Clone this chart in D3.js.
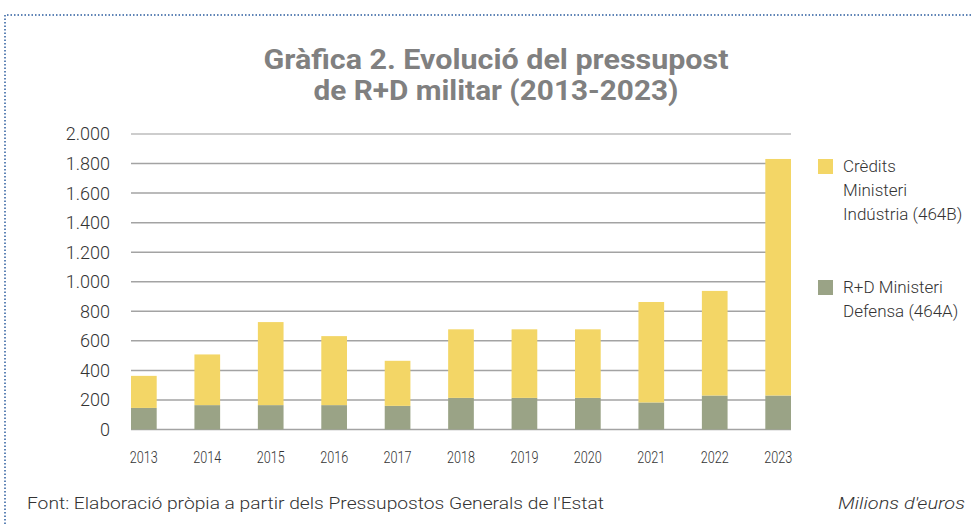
<!DOCTYPE html>
<html>
<head>
<meta charset="utf-8">
<script src="https://cdn.jsdelivr.net/npm/d3@7"></script>
<style>
  body { margin: 0; background: #fff; }
  svg text { font-family: Roboto, "Open Sans", sans-serif; }
</style>
</head>
<body>
<div id="chart"></div>
<script>
const years = ["2013", "2014", "2015", "2016", "2017", "2018", "2019", "2020", "2021", "2022", "2023"];
const defensa = [146, 165, 165, 165, 160, 214, 214, 214, 183, 230, 230];
const industria = [217, 343, 562, 467, 305, 464, 464, 464, 680, 708, 1601];
const yTicks = [0, 200, 400, 600, 800, 1000, 1200, 1400, 1600, 1800, 2000];
const titleLines = ["Gràfica 2. Evolució del pressupost", "de R+D militar (2013-2023)"];

const width = 972, height = 524;
const colors = { industria: "#f3d666", defensa: "#9aa386" };

const data = years.map((y, i) => ({ year: y, defensa: defensa[i], industria: industria[i] }));

const svg = d3.select("#chart").append("svg")
    .attr("width", width)
    .attr("height", height);

// dotted frame (top and left)
svg.append("path")
    .attr("d", `M5,${height} L5,15 L${width},15`)
    .attr("fill", "none")
    .attr("stroke", "#2b5c9e")
    .attr("stroke-width", 1.5)
    .attr("stroke-dasharray", "1.5,2");

// title
svg.append("g").selectAll("text")
    .data(titleLines)
    .enter().append("text")
    .attr("x", 496)
    .attr("y", (d, i) => 69 + i * 31)
    .attr("text-anchor", "middle")
    .attr("fill", "#808080")
    .attr("font-size", 27)
    .attr("font-weight", 700)
    .attr("textLength", (d, i) => i === 0 ? 465 : 365)
    .attr("lengthAdjust", "spacingAndGlyphs")
    .text(d => d);

const x = d3.scaleBand()
    .domain(years)
    .range([131, 791])
    .paddingInner(0.595)
    .paddingOuter(0);

const y = d3.scaleLinear()
    .domain([0, 2000])
    .range([429.5, 134]);

// gridlines
svg.append("g").selectAll("line")
    .data(yTicks)
    .enter().append("line")
    .attr("x1", 131)
    .attr("x2", 791)
    .attr("y1", d => y(d))
    .attr("y2", d => y(d))
    .attr("stroke", d => d === 2000 ? "#bdbdbd" : "#a3a3a3")
    .attr("stroke-width", 1.5);

// y tick labels
svg.append("g").selectAll("text")
    .data(yTicks)
    .enter().append("text")
    .attr("x", 110)
    .attr("y", d => y(d))
    .attr("dy", "0.36em")
    .attr("text-anchor", "end")
    .attr("fill", "#333")
    .attr("font-size", 18)
    .attr("font-weight", 300)
    .text(d => d3.format(",")(d).replace(/,/g, "."));

// stacked bars
const stack = d3.stack().keys(["defensa", "industria"]);
const layers = stack(data);

svg.append("g").selectAll("g")
    .data(layers)
    .enter().append("g")
    .attr("fill", d => colors[d.key])
    .selectAll("rect")
    .data(d => d)
    .enter().append("rect")
    .attr("x", d => x(d.data.year))
    .attr("width", x.bandwidth())
    .attr("y", d => y(d[1]))
    .attr("height", d => y(d[0]) - y(d[1]));

// x labels
svg.append("g").selectAll("text")
    .data(years)
    .enter().append("text")
    .attr("x", d => x(d) + x.bandwidth() / 2)
    .attr("y", 463)
    .attr("text-anchor", "middle")
    .attr("fill", "#333")
    .attr("font-size", 17)
    .attr("font-weight", 300)
    .attr("textLength", 28)
    .attr("lengthAdjust", "spacingAndGlyphs")
    .text(d => d);

// legend
const legend = [
    { key: "industria", top: 159, lines: ["Crèdits", "Ministeri", "Indústria (464B)"] },
    { key: "defensa", top: 280, lines: ["R+D Ministeri", "Defensa (464A)"] }
];

const lg = svg.append("g").selectAll("g")
    .data(legend)
    .enter().append("g");

lg.append("rect")
    .attr("x", 818)
    .attr("y", d => d.top)
    .attr("width", 15)
    .attr("height", 15)
    .attr("fill", d => colors[d.key]);

lg.append("text")
    .attr("fill", "#333")
    .attr("font-size", 17)
    .attr("font-weight", 300)
    .selectAll("tspan")
    .data(d => d.lines.map((l, i) => ({ l, i, top: d.top })))
    .enter().append("tspan")
    .attr("x", 843)
    .attr("y", d => d.top + 13 + d.i * 24)
    .text(d => d.l);

// footer
svg.append("text")
    .attr("x", 27)
    .attr("y", 509)
    .attr("fill", "#333")
    .attr("font-size", 17)
    .attr("font-weight", 300)
    .attr("textLength", 577)
    .attr("lengthAdjust", "spacingAndGlyphs")
    .text("Font: Elaboració pròpia a partir dels Pressupostos Generals de l'Estat");

svg.append("text")
    .attr("x", 838)
    .attr("y", 509)
    .attr("fill", "#333")
    .attr("font-size", 17)
    .attr("font-weight", 300)
    .attr("font-style", "italic")
    .attr("textLength", 127)
    .attr("lengthAdjust", "spacingAndGlyphs")
    .text("Milions d'euros");
</script>
</body>
</html>
